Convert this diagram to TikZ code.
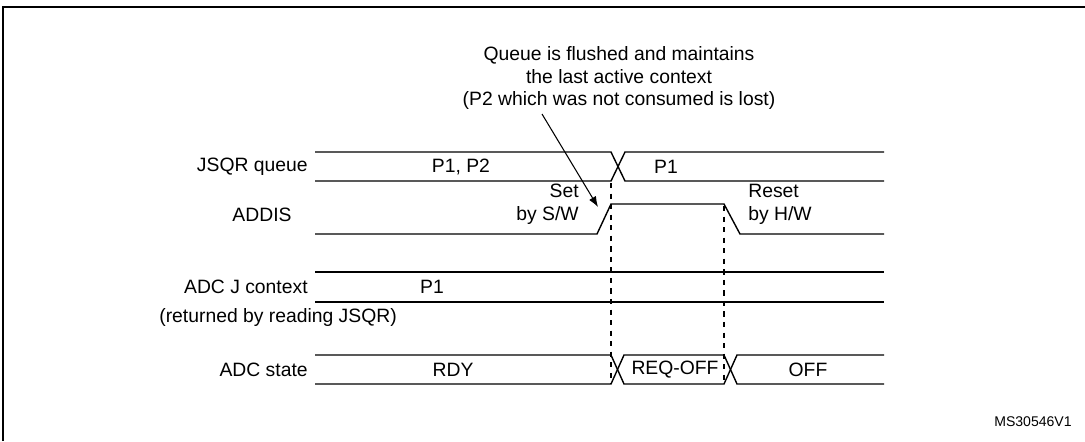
\documentclass[tikz,border=0pt]{standalone}
\usepackage{fontspec}
\setmainfont{Liberation Sans}
\usetikzlibrary{arrows.meta}
\usetikzlibrary{calc}

\tikzset{
	sig/.style={line width=0.8pt},
	edgemark/.style={dashed,line width=0.6pt},
	lbl/.style={inner sep=0pt,font=\fontsize{11}{13}\selectfont},
}

\begin{document}
\begin{tikzpicture}[x=0.02cm,y=-0.02cm,>/.tip={Latex[length=6pt]}]
	\useasboundingbox (0,0) rectangle (1085,441);
	% frame
	\draw[line width=1.2pt] (3,441) -- (3,7) -- (1085,7);
	% signal names
	\node (jsqr) [lbl,anchor=east] at (308,167) {JSQR queue};
	\node (addis) [lbl] at (262,215) {ADDIS};
	\node (jctx) [lbl,anchor=east] at (308,287) {ADC J context};
	\node (ret) [lbl,anchor=west] at (159,317) {(returned by reading JSQR)};
	\node (state) [lbl,anchor=east] at (308,370) {ADC state};
	% JSQR queue
	\draw[sig] (315,152) -- (611,152) -- (625,181) -- (884,181);
	\draw[sig] (315,181) -- (611,181) -- (625,152) -- (884,152);
	\node [lbl] at (461,167) {P1, P2};
	\node [lbl] at (666,167) {P1};
	% ADDIS
	\draw[sig] (315,234) -- (597,234) -- (611,204) -- (724,204) -- (740,234) -- (884,234);
	\node (set) [lbl,align=right,anchor=east] at (579,204) {Set\\by S/W};
	\node (reset) [lbl,align=left,anchor=west] at (748,204) {Reset\\by H/W};
	% ADC J context
	\draw[sig] (315,272) -- (884,272);
	\draw[sig] (315,302) -- (884,302);
	\node [lbl] at (432,287) {P1};
	% ADC state
	\draw[sig] (315,355) -- (611,355) -- (624,384) -- (724,384) -- (737,355) -- (884,355);
	\draw[sig] (315,384) -- (611,384) -- (624,355) -- (724,355) -- (737,384) -- (884,384);
	\node [lbl] at (453,370) {RDY};
	\node [lbl] at (675,370) {REQ-OFF};
	\node [lbl] at (808,370) {OFF};
	% markers
	\coordinate (m1) at (611,183);
	\coordinate (m2) at (724,206);
	\draw[edgemark] (m1) -- (m1 |- 0,384);
	\draw[edgemark] (m2) -- (m2 |- 0,384);
	% note
	\node (note) [lbl,align=center] at (619,78) {Queue is flushed and maintains\\the last active context\\(P2 which was not consumed is lost)};
	\coordinate (tip) at (598,207);
	\draw[->,line width=0.6pt] (542,114) -- (tip);
	\node (ref) [inner sep=0pt,font=\fontsize{8}{10}\selectfont] at (1033,422) {MS30546V1};
\end{tikzpicture}
\end{document}
